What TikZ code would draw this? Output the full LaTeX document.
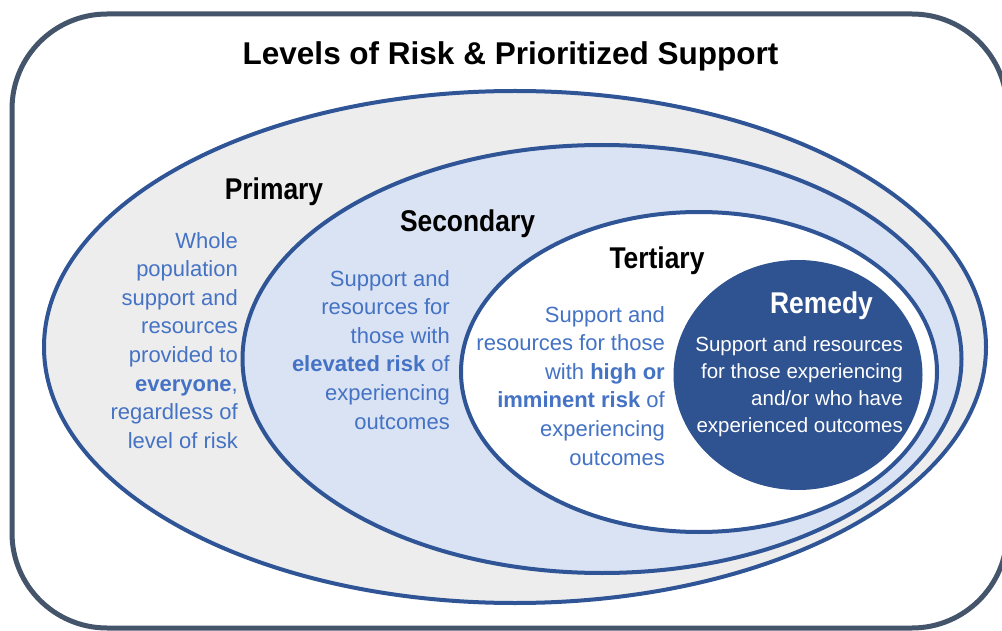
\documentclass[tikz,border=0pt]{standalone}
\usepackage{fontspec}
\setmainfont{Liberation Sans}
\newfontfamily\headfont{Liberation Sans}[FakeStretch=0.88]
\usetikzlibrary{shapes.geometric}
\definecolor{framecol}{HTML}{44546A}
\definecolor{ringline}{HTML}{2F5597}
\definecolor{grayfill}{HTML}{EDEDED}
\definecolor{bluefill}{HTML}{DAE3F3}
\definecolor{txtblue}{HTML}{4472C4}
\definecolor{remedyfill}{HTML}{2F5290}
\tikzset{
  ring/.style={ellipse, draw=ringline, line width=4pt, inner sep=0pt, outer sep=0pt},
  head/.style={font=\headfont\bfseries\fontsize{30}{34}\selectfont, anchor=base, inner sep=0pt},
  body/.style={font=\fontsize{22}{28.6}\selectfont, text=txtblue, align=right, anchor=north east, inner sep=0pt},
}
\begin{document}
\begin{tikzpicture}[x=1pt,y=-1pt]
\useasboundingbox (0,0) rectangle (1002,631);
\fill[white] (0,0) rectangle (1002,631);
\draw[framecol, line width=5pt, rounded corners=95pt] (12,14) rectangle (1007,628);
\node[anchor=base, font=\bfseries\fontsize{31.5}{36}\selectfont, inner sep=0pt] (title) at (510.5,65) {Levels of Risk \& Prioritized Support};
\node[ring, fill=grayfill, minimum width=942pt, minimum height=512pt] (primary) at (515,347) {};
\node[ring, fill=bluefill, minimum width=719pt, minimum height=428pt] (secondary) at (602,359) {};
\node[ring, fill=white, minimum width=476pt, minimum height=320pt] (tertiary) at (699,372) {};
\node[ellipse, fill=remedyfill, inner sep=0pt, minimum width=249pt, minimum height=230pt] (remedy) at (798,375) {};
\node[head] (hprimary) at (274,200) {Primary};
\node[head] (hsecondary) at (467.5,232) {Secondary};
\node[head] (htertiary) at (657,269) {Tertiary};
\node[head, text=white] (hremedy) at (821.5,313) {Remedy};
\node[body] (tprimary) at (238,232) {Whole\\population\\support and\\resources\\provided to\\\textbf{everyone},\\regardless of\\level of risk};
\node[body] (tsecondary) at (450,270) {Support and\\resources for\\those with\\\textbf{elevated risk} of\\experiencing\\outcomes};
\node[body] (ttertiary) at (665,306) {Support and\\resources for those\\with \textbf{high or}\\\textbf{imminent risk} of\\experiencing\\outcomes};
\node[body, text=white, font=\fontsize{20.5}{27}\selectfont] (tremedy) at (903,336) {Support and resources\\for those experiencing\\and/or who have\\experienced outcomes};
\end{tikzpicture}
\end{document}
